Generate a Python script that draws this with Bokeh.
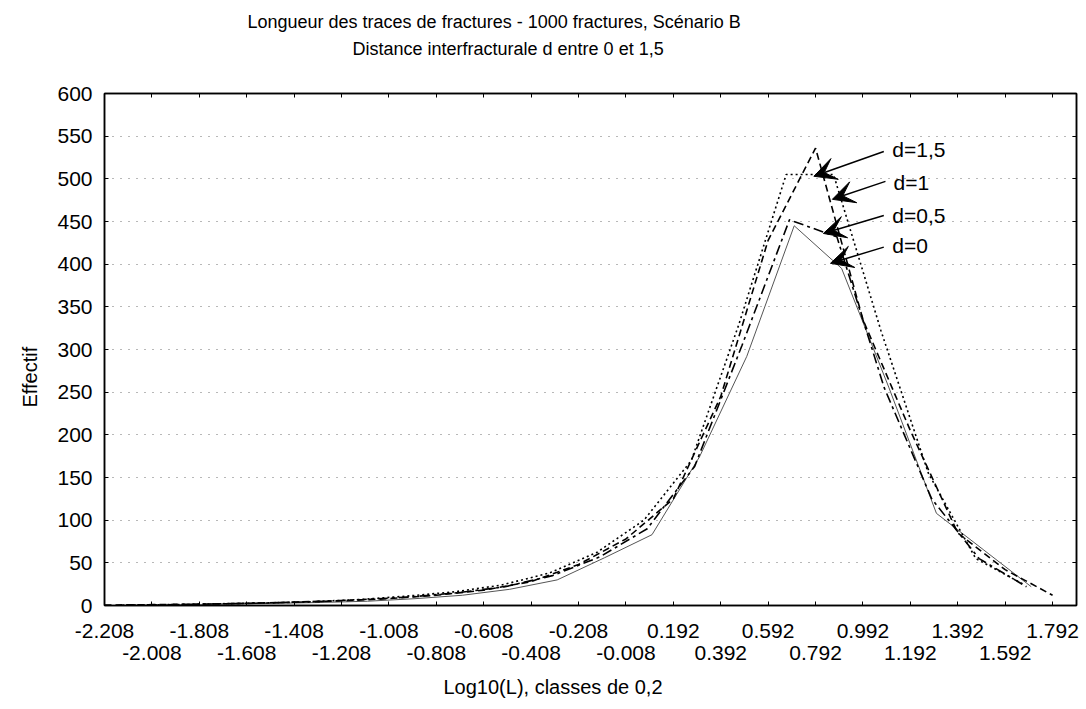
from bokeh.plotting import figure
from bokeh.layouts import column
from bokeh.models import FixedTicker, LinearAxis, Label, Arrow, VeeHead, Range1d, Title
from bokeh.embed import file_html
from bokeh.resources import INLINE

FONT = "Liberation Sans"

# ---- data -------------------------------------------------------------
tick_values = [-2.208, -2.008, -1.808, -1.608, -1.408, -1.208, -1.008, -0.808,
               -0.608, -0.408, -0.208, -0.008, 0.192, 0.392, 0.592, 0.792,
               0.992, 1.192, 1.392, 1.592, 1.792]
tick_labels = ["-2.208", "-2.008", "-1.808", "-1.608", "-1.408", "-1.208",
               "-1.008", "-0.808", "-0.608", "-0.408", "-0.208", "-0.008",
               "0.192", "0.392", "0.592", "0.792", "0.992", "1.192", "1.392",
               "1.592", "1.792"]
y_ticks = [0, 50, 100, 150, 200, 250, 300, 350, 400, 450, 500, 550, 600]

x_d15 = [-2.208, -2.008, -1.808, -1.608, -1.408, -1.208, -1.008, -0.808,
         -0.608, -0.408, -0.208, -0.008, 0.192, 0.392, 0.592, 0.792,
         0.992, 1.192, 1.392, 1.592, 1.792]
y_d15 = [0.5, 1, 1.5, 2.5, 4, 5.5, 8, 12, 18, 28, 48, 78, 125, 245, 428, 536,
         335, 205, 85, 42, 12]

x_d1 = [-2.132, -1.932, -1.732, -1.532, -1.332, -1.132, -0.932, -0.732,
        -0.532, -0.332, -0.132, 0.068, 0.268, 0.468, 0.668, 0.868, 1.068,
        1.268, 1.468, 1.668]
y_d1 = [0.5, 1, 2, 3, 4.5, 7, 11, 16, 24, 38, 62, 100, 170, 329, 505, 505,
        322, 155, 55, 25]

x_d05 = [-2.118, -1.918, -1.718, -1.518, -1.318, -1.118, -0.918, -0.718,
         -0.518, -0.318, -0.118, 0.082, 0.282, 0.482, 0.682, 0.882, 1.082,
         1.282, 1.482, 1.682]
y_d05 = [0.5, 1, 2, 3, 4.5, 7, 10, 15, 22, 35, 57, 90, 163, 305, 452, 432,
         255, 125, 55, 22]

x_d0 = [-2.098, -1.898, -1.698, -1.498, -1.298, -1.098, -0.898, -0.698,
        -0.498, -0.298, -0.098, 0.102, 0.302, 0.502, 0.702, 0.902, 1.102,
        1.302, 1.502, 1.702]
y_d0 = [0.5, 1, 1.5, 2.5, 3.5, 5, 8, 12, 19, 30, 56, 83, 174, 292, 445, 395,
        255, 108, 65, 22]

series_names = ["d=1,5", "d=1", "d=0,5", "d=0"]
# annotation (label / arrow) anchor positions in data units
label_x = [1.116, 1.121, 1.116, 1.116]
label_y = [534, 496, 457, 422]
arrow_start_x = [1.080, 1.087, 1.080, 1.080]
arrow_start_y = [532, 497, 457, 420]
arrow_end_x = [0.785, 0.863, 0.825, 0.855]
arrow_end_y = [503, 476, 436, 401]

title_1 = "Longueur des traces de fractures - 1000 fractures, Scénario B"
title_2 = "Distance interfracturale d entre 0 et 1,5"
x_title = "Log10(L), classes de 0,2"
y_title = "Effectif"

# ---- title strip (pixel coordinates, y downwards) ---------------------
TOP_H = 78
pt = figure(width=1086, height=TOP_H, output_backend="svg", toolbar_location=None,
            title=None, x_range=Range1d(104, 1076), y_range=Range1d(TOP_H, 0),
            x_axis_location=None, y_axis_location=None,
            min_border_left=104, min_border_right=10, min_border_top=0,
            min_border_bottom=0)
pt.outline_line_color = None
pt.background_fill_color = "white"
pt.border_fill_color = "white"
pt.xgrid.visible = False
pt.ygrid.visible = False
pt.add_layout(Label(x=247, y=21, text=title_1, text_font=FONT,
                    text_font_size="18px", text_baseline="alphabetic",
                    text_align="left", text_color="black"))
pt.add_layout(Label(x=352, y=48, text=title_2, text_font=FONT,
                    text_font_size="18px", text_baseline="alphabetic",
                    text_align="left", text_color="black"))

# ---- main figure ------------------------------------------------------
p = figure(width=1086, height=709 - TOP_H, output_backend="svg",
           toolbar_location=None, title=None,
           x_range=Range1d(-2.208, 1.893), y_range=Range1d(0, 600),
           min_border_left=104, min_border_right=10, min_border_top=15,
           min_border_bottom=104)
p.background_fill_color = "white"
p.border_fill_color = "white"
p.outline_line_color = "black"
p.outline_line_width = 1.5

p.xgrid.visible = False
p.ygrid.ticker = FixedTicker(ticks=y_ticks[1:-1])
p.ygrid.grid_line_color = "#707070"
p.ygrid.grid_line_dash = "1 7"
p.ygrid.grid_line_width = 1

even_t = tick_values[0::2]
odd_t = tick_values[1::2]
even_l = tick_labels[0::2]
odd_l = tick_labels[1::2]

# first (upper) row of x labels
ax1 = p.xaxis[0]
ax1.ticker = FixedTicker(ticks=even_t, minor_ticks=odd_t)
ax1.major_label_overrides = {t: l for t, l in zip(even_t, even_l)}
ax1.axis_line_width = 1.5
ax1.major_tick_in = 4
ax1.major_tick_out = 0
ax1.minor_tick_in = 4
ax1.minor_tick_out = 0
ax1.major_label_standoff = 18
ax1.major_label_text_font = FONT
ax1.major_label_text_font_size = "21px"
ax1.major_label_text_color = "black"

# second (lower) row of x labels
ax2 = LinearAxis(ticker=FixedTicker(ticks=odd_t))
ax2.major_label_overrides = {t: l for t, l in zip(odd_t, odd_l)}
ax2.axis_line_color = None
ax2.major_tick_line_color = None
ax2.minor_tick_line_color = None
ax2.major_tick_in = 0
ax2.major_tick_out = 0
ax2.major_label_standoff = 5
ax2.major_label_text_font = FONT
ax2.major_label_text_font_size = "21px"
ax2.major_label_text_color = "black"
p.add_layout(ax2, "below")

# y axis
ay = p.yaxis[0]
ay.ticker = FixedTicker(ticks=y_ticks)
ay.axis_line_width = 1.5
ay.major_tick_in = 4
ay.major_tick_out = 0
ay.minor_tick_line_color = None
ay.major_label_standoff = 12
ay.major_label_text_font = FONT
ay.major_label_text_font_size = "21px"
ay.major_label_text_color = "black"

# top and right frame axes: inward ticks only
at = LinearAxis(ticker=FixedTicker(ticks=tick_values))
at.major_label_overrides = {t: "" for t in tick_values}
at.major_label_text_font_size = "1px"
at.major_label_standoff = 0
at.major_tick_in = 4
at.major_tick_out = 0
at.minor_tick_line_color = None
at.axis_line_width = 1.5
p.add_layout(at, "above")

ar = LinearAxis(ticker=FixedTicker(ticks=y_ticks))
ar.major_label_overrides = {t: "" for t in y_ticks}
ar.major_label_text_font_size = "1px"
ar.major_label_standoff = 0
ar.major_tick_in = 4
ar.major_tick_out = 0
ar.minor_tick_line_color = None
ar.axis_line_width = 1.5
p.add_layout(ar, "right")

# axis titles
tx = Title(text=x_title, align="left", offset=339, standoff=22,
           text_font=FONT, text_font_size="20px", text_font_style="normal",
           text_color="black")
p.add_layout(tx, "below")

ty = Title(text=y_title, align="left", offset=198, standoff=28,
           text_font=FONT, text_font_size="20px", text_font_style="normal",
           text_color="black")
p.add_layout(ty, "left")

# ---- series -----------------------------------------------------------
p.line(x_d0, y_d0, line_color="#555555", line_width=1)
p.line(x_d05, y_d05, line_color="black", line_width=1.6, line_dash="10 4 3 4")
p.line(x_d1, y_d1, line_color="black", line_width=1.6, line_dash="2 3")
p.line(x_d15, y_d15, line_color="black", line_width=1.6, line_dash="7 4")

# ---- annotations ------------------------------------------------------
for name, lx, ly, sx, sy, ex, ey in zip(series_names, label_x, label_y,
                                         arrow_start_x, arrow_start_y,
                                         arrow_end_x, arrow_end_y):
    p.add_layout(Arrow(end=VeeHead(size=22, fill_color="black", line_color="black",
                                   line_width=1),
                       x_start=sx, y_start=sy, x_end=ex, y_end=ey,
                       line_color="black", line_width=1.5))
    p.add_layout(Label(x=lx, y=ly, text=name, text_font=FONT,
                       text_font_size="21px", text_baseline="middle",
                       text_align="left", text_color="black"))

layout = column(pt, p, spacing=0)
open("out.html", "w").write(file_html(layout, INLINE))
